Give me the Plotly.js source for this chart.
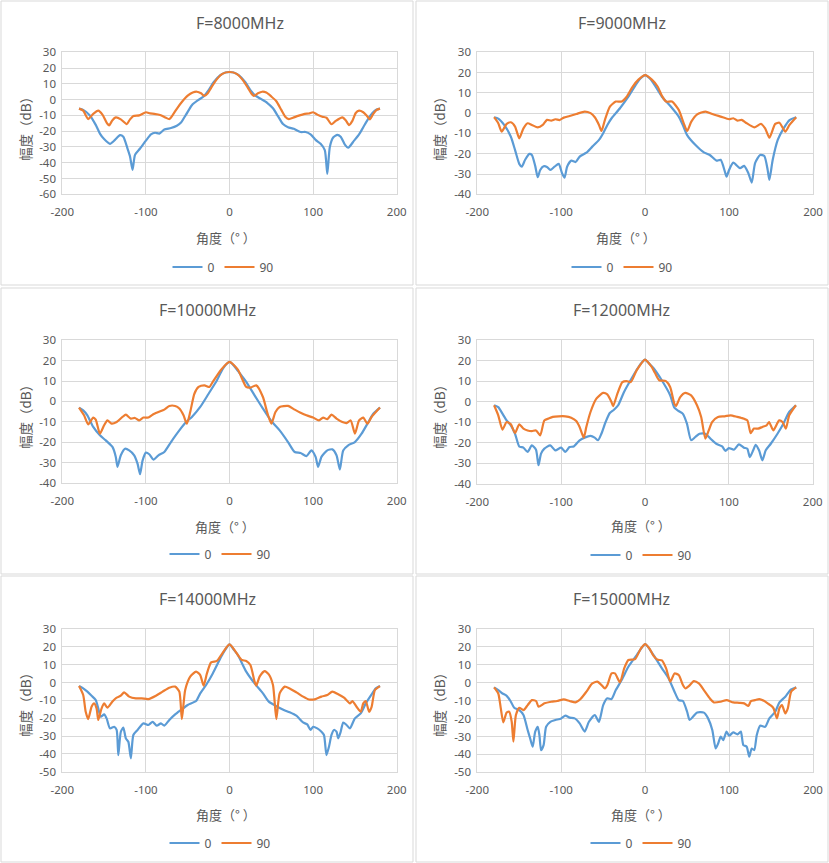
<!DOCTYPE html>
<html>
<head>
<meta charset="utf-8">
<script src="https://cdn.plot.ly/plotly-3.0.1.min.js"></script>
<style>
  body { margin: 0; background: #fff; }
  #plot { width: 829px; height: 863px; }
</style>
</head>
<body>
<div id="plot"></div>
<script>
// angle (deg) / gain (dB); "a" = 0 cut, "b" = 90 cut
var ang8000a = [-180,-175,-167,-160,-155,-150,-143,-137,-131,-127,-122,-119,-116,-113,-107,-100,-94,-89,-84,-78,-70,-63,-58,-52,-45,-38,-31,-25,-19,-11,-5,0,5,11,19,25,31,38,45,52,58,64,70,77,85,91,97,103,109,114,117,120,124,129,133,138,142,149,155,160,165,171,175,180];
var db8000a = [-5.7,-6.5,-10,-16,-21.5,-25,-28,-25.5,-22.5,-23.5,-31,-36,-44.5,-35,-31,-26,-22,-21,-21.5,-19,-18,-16.5,-14.5,-9.5,-3.5,-0.5,2,6,11,15.5,17.2,17.5,17.2,15.5,11,6,2.5,0.3,-2,-5.5,-10.5,-15.5,-17.5,-18.5,-20.5,-20.5,-22,-25.5,-28,-32,-47,-30,-24,-22.3,-23.5,-28.5,-30.5,-26,-22,-17.5,-13,-8.5,-6.5,-5.7];
var ang8000b = [-180,-175,-169,-163,-157,-152,-147,-144,-140,-136,-130,-123,-119,-115,-108,-100,-95,-90,-83,-76,-72,-67,-62,-57,-50,-44,-39,-34,-30,-26,-22,-15,-8,0,8,15,22,26,29,34,39,44,50,56,62,67,71,76,82,90,95,100,105,111,116,122,127,135,139,143,147,151,155,160,164,168,172,176,180];
var db8000b = [-5.7,-7,-12.3,-9,-7,-9.5,-14.5,-16.3,-13,-11.3,-12.5,-15.5,-12.5,-10.4,-10,-8,-8.7,-9,-9.7,-11.5,-12.3,-9,-5,-1.5,2.5,4.5,5,4,2.3,4,7.5,13,16.5,17.5,16.5,13,7.5,4,2.3,4,5,4.5,2,-1,-6.5,-11,-12.3,-11.5,-10.3,-9,-8.8,-8,-9.5,-10.8,-11.5,-15.6,-13.5,-11.2,-13,-16.1,-13.5,-8.5,-7,-8,-10,-12.5,-9,-6.5,-5.7];

var ang9000a = [-180,-175,-168,-160,-155,-150,-147,-143,-138,-135,-131,-128,-125,-121,-117,-113,-108,-103,-99,-96,-93,-88,-83,-78,-70,-63,-55,-50,-45,-40,-30,-20,-10,-5,0,5,10,20,30,40,45,50,60,70,77,85,90,95,97,100,105,113,118,123,127,131,137,142,146,148,152,158,165,172,180];
var db9000a = [-2,-2.7,-5.8,-11.6,-18.2,-25,-26.4,-23,-20.1,-20.6,-26,-31.6,-28,-26.2,-26.5,-28,-26.4,-25,-29.6,-31.8,-26.4,-23.4,-24.1,-21.4,-19.5,-16.5,-13.2,-9.9,-5.8,-2.5,2.4,8.1,14.7,17.3,18.7,17.3,14.7,8.1,3.5,-1.7,-6,-10.8,-15.7,-19.3,-20.6,-23.4,-23,-28.8,-31.3,-28,-24.4,-27.1,-26,-29.6,-34.2,-24.6,-20.6,-21.1,-28,-32.9,-23,-13.2,-7.5,-3.4,-2];
var ang9000b = [-180,-175,-171,-165,-160,-155,-150,-145,-140,-135,-128,-122,-117,-112,-107,-102,-97,-90,-82,-72,-65,-60,-55,-52,-48,-42,-35,-28,-22,-15,-8,0,8,15,20,25,32,40,46,50,55,62,72,80,90,100,105,110,115,120,130,138,143,148,155,160,167,172,180];
var db9000b = [-2,-5,-9.1,-5.3,-4.5,-6.6,-12.4,-7.5,-5,-5.8,-7,-5.8,-3.3,-3.7,-3,-3.4,-2.2,-1.4,-0.4,0.8,0,-2,-5.8,-8.8,-3.4,3.2,5.7,5.7,8.1,13,16.5,18.7,16.5,13,8.5,5.7,5.7,1.6,-5,-8.8,-4.2,-0.6,0.8,-0.4,-1.7,-3,-2.5,-3.7,-3.3,-4.7,-7,-5.3,-7.5,-12.1,-5.3,-4.7,-9.1,-5.8,-2];

var ang10000a = [-180,-175,-170,-163,-155,-148,-140,-136,-134,-130,-125,-120,-114,-110,-107,-104,-100,-96,-91,-85,-78,-70,-60,-52,-45,-35,-25,-15,-10,-5,0,5,10,20,30,40,50,60,70,78,85,92,98,103,106,110,117,123,128,132,136,142,150,158,165,172,180];
var db10000a = [-3,-4.4,-6.8,-12.5,-16.6,-19.1,-22.3,-27.2,-32.1,-26.4,-23.2,-24,-26.4,-30.5,-35.7,-29,-25.1,-25.9,-28.5,-26.4,-24.8,-19.9,-14.2,-10.1,-7.6,-2.7,3.8,10.4,14.5,17.7,19.4,17.7,15,9.6,3,-3.5,-9.6,-14.2,-19.9,-24.8,-25.3,-26.8,-24,-27.2,-32.1,-27.2,-24,-23.5,-26.4,-33.4,-24,-21.5,-19.9,-15.8,-10.9,-6,-3];
var ang10000b = [-180,-174,-169,-163,-160,-155,-150,-146,-141,-135,-128,-124,-118,-113,-108,-103,-97,-92,-85,-78,-72,-65,-60,-55,-51,-47,-42,-37,-30,-24,-20,-10,0,10,20,25,32,40,45,50,55,60,70,78,85,92,100,107,112,117,122,128,135,140,145,150,155,160,165,170,180];
var db10000b = [-3,-6.8,-11.2,-7.9,-8.9,-15.8,-11.7,-9.3,-10.9,-10.1,-7.6,-6.5,-8.4,-8.1,-9.3,-7.9,-7.9,-6.5,-5.2,-4,-2.2,-2.2,-3.5,-6.8,-10.9,-5.2,3.8,7.1,7.9,7.1,9.6,15.6,19.4,15.6,7.1,6.8,7.9,2.2,-5.2,-10.9,-5.2,-2.7,-2.2,-4,-5.5,-6.8,-7.9,-9.3,-7.9,-8.7,-6.5,-8.4,-10.1,-10.6,-9.3,-15.8,-9.3,-7.9,-10.9,-7.6,-3];

var ang12000a = [-180,-175,-170,-165,-160,-155,-150,-145,-140,-135,-130,-127,-124,-120,-113,-107,-100,-95,-90,-85,-78,-72,-65,-60,-56,-52,-47,-42,-37,-32,-25,-15,-10,-5,0,5,10,20,30,35,40,45,50,55,60,65,72,78,85,92,96,100,106,112,118,122,125,129,132,136,140,144,150,158,165,172,180];
var db12000a = [-1.7,-2.6,-5.8,-9.1,-11.5,-15.6,-21.8,-22.4,-24.5,-21.3,-23.4,-31,-25.3,-22.9,-21.3,-23.7,-22.4,-24.5,-22.1,-21.8,-18.8,-17.5,-16.7,-17.5,-18.8,-15.6,-9.9,-5.5,-3.9,-1.7,4.8,12.1,15.5,18.6,20.6,18.6,16.5,10.5,3.2,-2.9,-4.5,-5.8,-10.7,-18.8,-17.2,-15.6,-15.6,-18,-20.5,-21.8,-24,-22.6,-23.4,-20.8,-22.4,-22.9,-27,-23.7,-21,-23.7,-28.6,-23.7,-20.5,-15.6,-10.7,-5,-1.7];
var ang12000b = [-180,-175,-170,-165,-160,-155,-150,-145,-140,-135,-130,-125,-120,-115,-110,-103,-95,-88,-82,-78,-73,-70,-65,-58,-50,-45,-40,-38,-33,-27,-22,-17,-10,0,8,12,17,25,30,35,37,42,48,55,62,67,72,76,80,87,95,102,110,115,122,126,130,135,140,145,148,153,160,164,168,172,180];
var db12000b = [-1.7,-6.6,-13.6,-9.9,-11,-15.3,-11,-13.1,-14,-14.3,-14,-16.4,-9.1,-8.2,-7.4,-7.1,-7.1,-7.8,-9.4,-12.3,-17.5,-12.3,-5,1.5,4.3,3.6,-0.1,-2.2,3.9,9.6,10.1,9.6,15.3,20.6,17,14,10.5,10.1,7.2,-0.9,-2.1,2.3,4.3,3.1,-1.7,-7.4,-18,-14,-9.9,-7.4,-7.1,-6.6,-7.4,-7.9,-9.1,-15.3,-13.1,-13.1,-12.3,-11.5,-9.9,-14,-9.1,-9.9,-13.1,-6.6,-1.7];

var ang14000a = [-180,-175,-170,-165,-160,-157,-154,-150,-147,-143,-138,-135,-133,-130,-127,-124,-121,-118,-115,-110,-103,-97,-92,-87,-82,-78,-72,-65,-58,-50,-40,-35,-28,-20,-10,-5,0,5,10,20,30,40,47,55,65,72,80,88,93,97,100,105,110,113,116,119,122,125,128,130,133,136,140,144,150,157,163,170,175,180];
var db14000a = [-2,-3.3,-5.1,-7.4,-9.8,-14.5,-19.2,-17.9,-20.1,-25.7,-24.8,-26.6,-40.7,-27.6,-25.3,-31.3,-33.2,-42.5,-29.4,-26.6,-22.9,-23.8,-22,-24.2,-22.9,-24.2,-21,-17.9,-15.4,-12.6,-10.4,-6.1,-1.4,5.1,14.5,18.5,21.4,18.5,15.4,6.1,-0.5,-6.1,-10.7,-13,-15.4,-16.7,-18.6,-22.4,-23.5,-26.6,-24.8,-25.7,-27.6,-29.4,-40.7,-36,-29.4,-26.6,-27.6,-31.3,-27.6,-22.4,-23.8,-25.7,-20.1,-17.3,-11.7,-6.6,-3.3,-2];
var ang14000b = [-180,-175,-172,-169,-165,-162,-159,-157,-153,-150,-146,-140,-135,-130,-126,-120,-112,-105,-97,-88,-80,-72,-65,-60,-57,-53,-47,-40,-35,-31,-27,-22,-15,-10,0,10,15,20,25,30,32,36,42,47,52,56,60,66,72,80,88,95,103,110,117,123,130,137,144,147,152,157,160,163,167,170,174,180];
var db14000b = [-2,-7,-16.4,-20.5,-13.6,-11.7,-14.5,-21,-14.5,-11.7,-14.1,-10.7,-8.5,-7.4,-5.5,-7.9,-8.9,-8.9,-9.3,-7.4,-5.1,-2.9,-2.3,-5.1,-20.5,-4.2,3.3,6.1,4.2,-1.8,5.1,11.3,12.1,15.4,21.4,15.4,12.6,12.1,9.8,0.5,-1.8,3.3,6.4,4.6,-1.4,-20.5,-6.1,-2.3,-3.3,-5.5,-7.9,-9.5,-9.3,-7.9,-7,-5.1,-6.6,-8.5,-11.7,-10.4,-13.6,-16.4,-11.7,-10.4,-16.4,-13.6,-4.2,-2];

var ang15000a = [-180,-175,-170,-165,-160,-156,-150,-145,-140,-137,-134,-131,-128,-126,-124,-121,-118,-113,-107,-100,-95,-90,-84,-78,-72,-67,-60,-55,-50,-45,-40,-35,-28,-20,-10,0,10,20,28,35,40,45,50,53,57,62,70,75,80,84,87,90,93,97,100,105,110,114,117,121,124,127,130,133,137,143,148,155,160,167,173,180];
var db15000a = [-2.6,-4.1,-6,-7.3,-10.6,-14,-15.3,-18,-26.4,-31.1,-35.7,-27.3,-24.6,-29.2,-37.6,-34.8,-24.6,-21.8,-20.8,-19.9,-18.4,-19.5,-19.9,-22.7,-27.3,-21.8,-18,-21.8,-12.5,-8.7,-9.1,-4.1,1.5,8.9,15.4,21.6,15.4,8,2.4,-5,-9.7,-10.2,-16.2,-20.8,-19,-16.6,-16.7,-19.9,-26.4,-36.7,-33.9,-30.1,-32,-27.3,-29.6,-27.7,-28.8,-27.3,-34.8,-35.7,-41.3,-36.7,-37.6,-29.2,-24,-24.6,-19.9,-16.2,-11,-7.8,-4.1,-2.6];
var ang15000b = [-180,-175,-172,-169,-165,-162,-159,-157,-154,-150,-145,-140,-135,-130,-127,-120,-112,-105,-97,-90,-83,-77,-70,-63,-57,-52,-48,-45,-40,-36,-30,-25,-20,-12,-5,0,5,10,15,20,25,30,35,40,45,48,52,58,64,70,77,82,90,97,105,112,118,123,126,131,136,142,146,150,153,157,160,163,167,170,174,180];
var db15000b = [-2.6,-6,-14.3,-22.1,-16.6,-16.2,-21.8,-32.9,-18,-14,-15.3,-12.5,-9.7,-10.2,-13.4,-11.5,-10.6,-10.2,-9.3,-10.2,-11,-9.1,-5,-0.4,0.6,-1.3,-3.2,-1.3,5.2,5.2,0.2,8,12.7,13.2,19.2,21.6,19.2,15,12.8,12.5,8,0.6,5.2,4.3,-1.3,-3.2,-1.9,0.9,-0.4,-4.1,-8.7,-11,-10.6,-9.7,-11,-11.2,-11.5,-13,-10.2,-9.7,-9.1,-10.2,-11.5,-12.8,-14.3,-19.9,-14.3,-12.5,-17.1,-14.3,-5,-2.6];

var chartTitles = ['F=8000MHz', 'F=9000MHz', 'F=10000MHz', 'F=12000MHz', 'F=14000MHz', 'F=15000MHz'];
var seriesNames = ['0', '90'];
var xTitle = '角度（° ）';
var yTitle = '幅度（dB）';
var xTickVals = [-200, -100, 0, 100, 200];
var xTickText = ['-200', '-100', '0', '100', '200'];
var yTickVals = [30, 20, 10, 0, -10, -20, -30, -40, -50, -60];
var yTickText = ['30', '20', '10', '0', '-10', '-20', '-30', '-40', '-50', '-60'];
var yMins = [-60, -40, -40, -40, -50, -50];

var angles = [[ang8000a, ang8000b], [ang9000a, ang9000b], [ang10000a, ang10000b],
              [ang12000a, ang12000b], [ang14000a, ang14000b], [ang15000a, ang15000b]];
var gains = [[db8000a, db8000b], [db9000a, db9000b], [db10000a, db10000b],
             [db12000a, db12000b], [db14000a, db14000b], [db15000a, db15000b]];

// ---- layout geometry, in page pixels ----
var W = 829, H = 863;
function px(x) { return x / W; }
function py(y) { return 1 - y / H; }

// plot areas: left, right, top, bottom
var plotBox = [
    [62.3, 396.7, 52.3, 194.3], [477.3, 813, 52.3, 194.3],
    [62.3, 396.7, 340.3, 483], [477.3, 812.7, 340.3, 483.7],
    [62.3, 396.7, 629, 771.7], [477.3, 813, 629, 772.3]
];
// chart frames
var frameBox = [
    [1, 413, 1, 285], [416, 828, 1, 285],
    [1, 413, 288, 574], [416, 828, 288, 574],
    [1, 413, 576, 862], [416, 828, 576, 862]
];
var titlePos = [[240, 23], [622, 23], [207, 310], [621, 310], [207, 599], [621, 599]];
var xTitlePos = [[226, 238], [626, 238], [225, 526], [641, 525], [226, 814], [641, 814]];
var yTitlePos = [[25, 126], [439, 126], [25, 414], [439, 414], [25, 702], [439, 702]];
var legendPos = [[223, 267], [622, 267], [220, 554], [641, 555], [220, 843], [641, 843]];

var colors = ['#5b9bd5', '#ed7d31'];
var grey = '#595959';
var gridGrey = '#d9d9d9';
var cjk = "'Noto Sans CJK SC', 'Noto Sans CJK JP', sans-serif";

var data = [];
var layout = {
    width: W,
    height: H,
    margin: { l: 0, r: 0, t: 0, b: 0 },
    paper_bgcolor: '#fff',
    plot_bgcolor: '#fff',
    font: { family: "'Noto Sans', 'Noto Sans CJK SC', sans-serif", color: grey },
    hovermode: false,
    annotations: [],
    shapes: []
};

for (var i = 0; i < 6; i++) {
    var n = i === 0 ? '' : String(i + 1);
    for (var s = 0; s < 2; s++) {
        data.push({
            type: 'scatter',
            mode: 'lines',
            name: seriesNames[s],
            x: angles[i][s],
            y: gains[i][s],
            xaxis: 'x' + n,
            yaxis: 'y' + n,
            legend: 'legend' + n,
            line: { color: colors[s], width: 2.2, shape: 'spline', smoothing: 0.6 }
        });
    }

    var b = plotBox[i];
    var yv = [], yt = [];
    for (var k = 0; k < yTickVals.length; k++) {
        if (yTickVals[k] >= yMins[i]) { yv.push(yTickVals[k]); yt.push(yTickText[k]); }
    }
    layout['xaxis' + n] = {
        domain: [px(b[0]), px(b[1])],
        anchor: 'y' + n,
        range: [-200, 200],
        tickvals: xTickVals,
        ticktext: xTickText,
        ticks: '',
        ticklabelstandoff: 7,
        showgrid: true,
        gridcolor: gridGrey,
        zeroline: false,
        showline: true,
        mirror: true,
        linecolor: gridGrey,
        tickfont: { size: 11.5, color: grey },
        fixedrange: true
    };
    layout['yaxis' + n] = {
        domain: [py(b[3]), py(b[2])],
        anchor: 'x' + n,
        range: [yMins[i], 30],
        tickvals: yv,
        ticktext: yt,
        ticks: '',
        ticklabelstandoff: 3,
        showgrid: true,
        gridcolor: gridGrey,
        zeroline: false,
        showline: true,
        mirror: true,
        linecolor: gridGrey,
        tickfont: { size: 11.5, color: grey },
        fixedrange: true
    };
    layout['legend' + n] = {
        orientation: 'h',
        x: px(legendPos[i][0]),
        y: py(legendPos[i][1]),
        xanchor: 'center',
        yanchor: 'middle',
        bgcolor: 'rgba(0,0,0,0)',
        font: { size: 12, color: grey },
        itemwidth: 30
    };

    var f = frameBox[i];
    layout.shapes.push({
        type: 'rect', xref: 'paper', yref: 'paper', layer: 'below',
        x0: px(f[0]), x1: px(f[1]), y0: py(f[3]), y1: py(f[2]),
        line: { color: gridGrey, width: 1 }
    });

    layout.annotations.push({
        xref: 'paper', yref: 'paper', showarrow: false,
        x: px(titlePos[i][0]), y: py(titlePos[i][1]),
        xanchor: 'center', yanchor: 'middle',
        text: chartTitles[i],
        font: { size: 16, color: grey }
    });
    layout.annotations.push({
        xref: 'paper', yref: 'paper', showarrow: false,
        x: px(xTitlePos[i][0]), y: py(xTitlePos[i][1]),
        xanchor: 'center', yanchor: 'middle',
        text: xTitle,
        font: { family: cjk, size: 13, color: grey }
    });
    layout.annotations.push({
        xref: 'paper', yref: 'paper', showarrow: false,
        x: px(yTitlePos[i][0]), y: py(yTitlePos[i][1]),
        xanchor: 'center', yanchor: 'middle',
        textangle: -90,
        text: yTitle,
        font: { family: cjk, size: 13.5, color: grey }
    });
}

Plotly.newPlot('plot', data, layout, { displayModeBar: false, staticPlot: true });
</script>
</body>
</html>
